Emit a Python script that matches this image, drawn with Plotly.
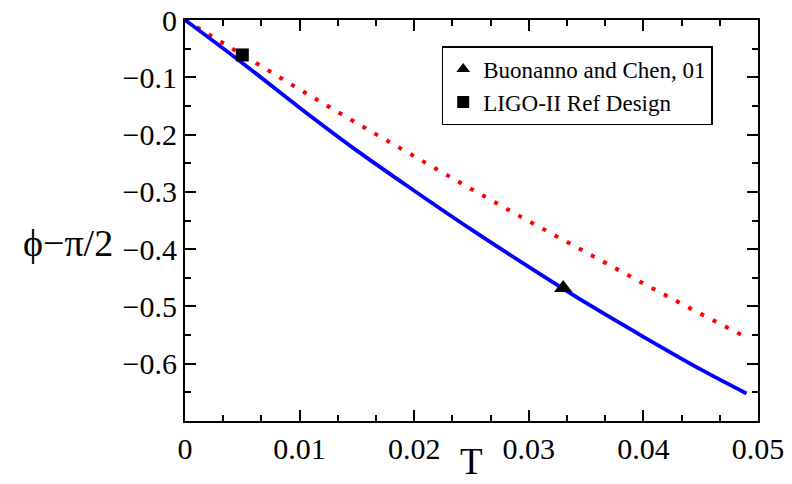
import plotly.graph_objects as go

# Data
T_blue = [0, 0.005, 0.01, 0.015, 0.02, 0.025, 0.03, 0.035, 0.04, 0.045, 0.049]
phi_blue = [0, -0.075, -0.153, -0.228, -0.298, -0.366, -0.431, -0.494, -0.553, -0.610, -0.652]

T_red = [0, 0.005, 0.01, 0.015, 0.02, 0.025, 0.03, 0.035, 0.04, 0.045, 0.0485]
phi_red = [0, -0.0612, -0.1212, -0.1803, -0.2383, -0.2953, -0.3513, -0.4062, -0.460, -0.513, -0.549]

bc_T = [0.033]
bc_phi = [-0.468]
ligo_T = [0.005]
ligo_phi = [-0.061]

x_ticks = [0, 0.01, 0.02, 0.03, 0.04, 0.05]
x_labels = ["0", "0.01", "0.02", "0.03", "0.04", "0.05"]
y_ticks = [0, -0.1, -0.2, -0.3, -0.4, -0.5, -0.6]
y_labels = ["0", "\u22120.1", "\u22120.2", "\u22120.3", "\u22120.4", "\u22120.5", "\u22120.6"]
x_minor = [i * 0.01 / 3 for i in range(16)]
y_minor = [-i * 0.05 for i in range(15)]

FONT = "Liberation Serif, Times New Roman, serif"

fig = go.Figure()
fig.add_trace(go.Scatter(x=T_red, y=phi_red, mode="lines",
                         line=dict(color="#ff0000", width=4, dash="4px,9.8px"),
                         showlegend=False))
fig.add_trace(go.Scatter(x=T_blue, y=phi_blue, mode="lines",
                         line=dict(color="#0000ff", width=3.8, shape="spline"),
                         showlegend=False))
fig.add_trace(go.Scatter(x=bc_T, y=bc_phi, mode="markers",
                         marker=dict(symbol="triangle-up", size=16, color="black"),
                         name="Buonanno and Chen, 01"))
fig.add_trace(go.Scatter(x=ligo_T, y=ligo_phi, mode="markers",
                         marker=dict(symbol="square", size=13, color="black"),
                         name="LIGO-II Ref Design"))

axis_common = dict(showgrid=False, zeroline=False, showline=True, linecolor="black",
                   linewidth=2, ticks="inside", ticklen=11, tickwidth=1.5,
                   tickcolor="black", mirror="allticks", automargin=False,
                   tickfont=dict(family=FONT, size=30, color="black"))

fig.update_xaxes(range=[0, 0.05], tickmode="array", tickvals=x_ticks, ticktext=x_labels,
                 minor=dict(tickmode="array", tickvals=x_minor, ticks="inside",
                            ticklen=6, tickwidth=1.5, tickcolor="black"),
                 **axis_common)
fig.update_yaxes(range=[-0.7, 0], tickmode="array", tickvals=y_ticks, ticktext=y_labels,
                 minor=dict(tickmode="array", tickvals=y_minor, ticks="inside",
                            ticklen=6, tickwidth=1.5, tickcolor="black"),
                 **axis_common)

fig.add_annotation(text="T", xref="paper", yref="paper",
                   x=0.5, y=-0.156, xanchor="center", yanchor="bottom",
                   showarrow=False, font=dict(family=FONT, size=37, color="black"))
fig.add_annotation(text="\u03d5\u2212\u03c0/2", xref="paper", yref="paper",
                   x=-0.205, y=0.445, xanchor="center", yanchor="middle",
                   showarrow=False, font=dict(family=FONT, size=38, color="black"))

fig.update_layout(
    width=792, height=484,
    margin=dict(l=185, r=34, t=20, b=63, autoexpand=False),
    plot_bgcolor="white", paper_bgcolor="white",
    legend=dict(x=0.448, y=0.935, xanchor="left", yanchor="top",
                bordercolor="black", borderwidth=1.5, bgcolor="white",
                font=dict(family=FONT, size=23, color="black"),
                tracegroupgap=0, itemsizing="constant", itemwidth=30),
)

fig.write_html("out.html", config={"displayModeBar": False},
               post_script="document.body.style.margin='0';document.body.style.overflow='hidden';")
